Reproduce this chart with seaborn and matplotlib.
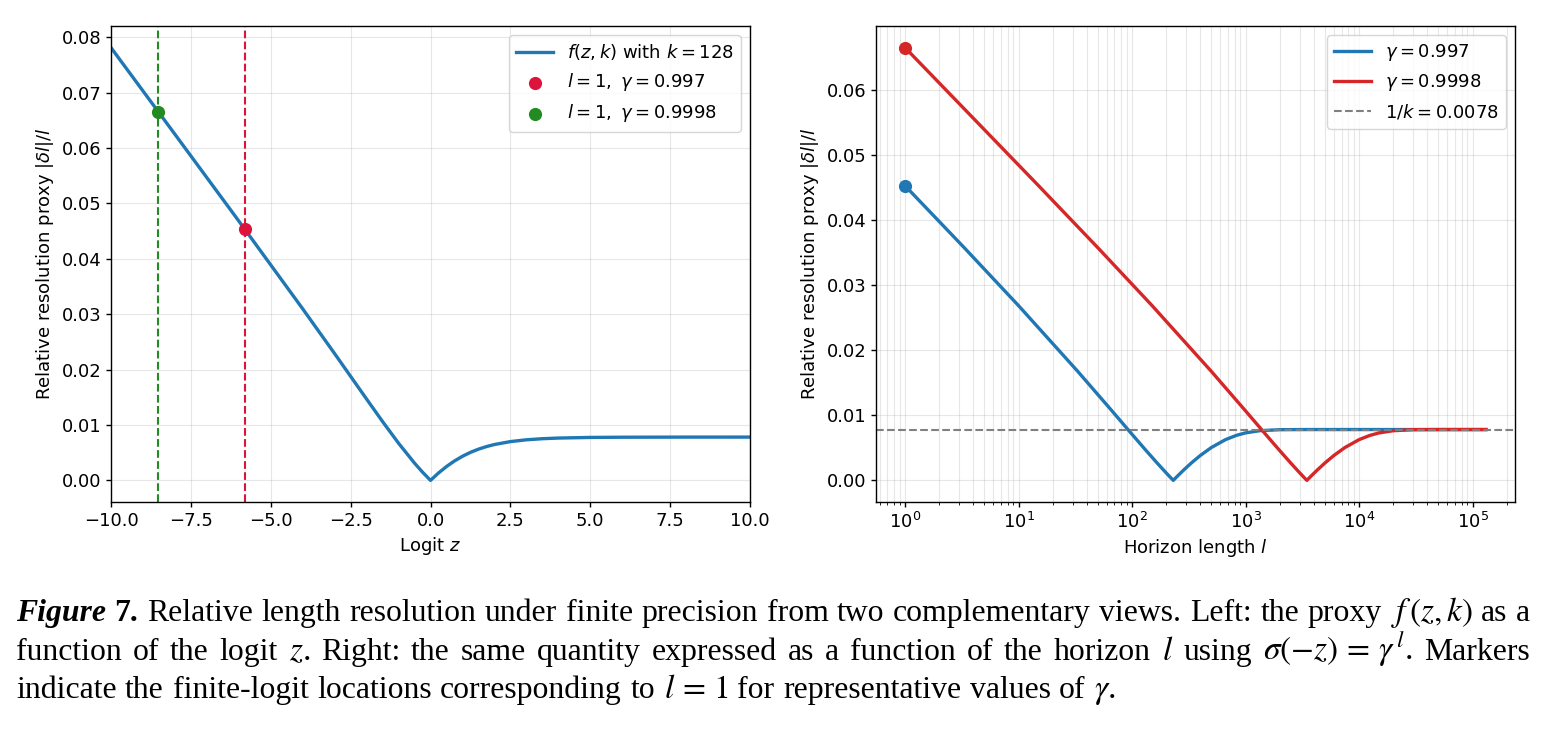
import matplotlib
matplotlib.use("Agg")
import matplotlib.pyplot as plt
import seaborn as sns

# ---- data ----
k_levels = 128
inv_k = 0.0078125

# left panel: proxy f(z, k) against the logit z
logit_z = [-10, -8, -6, -4, -3, -2, -1.5, -1, -0.5, -0.25, 0, 0.25, 0.5, 0.75,
           1, 1.25, 1.5, 1.75, 2, 2.5, 3, 3.5, 4, 5, 6, 8, 10]
proxy_z = [0.078125, 0.06249, 0.046817, 0.030968, 0.022877, 0.014674, 0.010614,
           0.006707, 0.003111, 0.0014848, 0.0, 0.0013294, 0.0024962, 0.0035005,
           0.004349, 0.0050541, 0.005631, 0.0060977, 0.006471, 0.006999,
           0.007323, 0.0075195, 0.007637, 0.007750, 0.007790, 0.007810, 0.0078121]

# finite-logit locations for l = 1
marker_z = [-5.806, -8.517]
marker_f = [0.045293, 0.066532]
marker_labels = [r"$l=1,\ \gamma=0.997$", r"$l=1,\ \gamma=0.9998$"]
marker_colors = ["crimson", "forestgreen"]

# right panel: same quantity against the horizon l
horizon_g1 = [1, 3.328, 9.985, 33.28, 66.57, 99.85, 133.1, 166.4, 199.7, 216.3,
              230.7, 239.6, 249.6, 282.9, 332.8, 399.4, 499.3, 665.7, 832.1,
              998.5, 1331, 1997, 3328, 131072]
proxy_g1 = [0.045293, 0.035759, 0.026872, 0.016744, 0.010676, 0.0070886,
            0.0045689, 0.0026605, 0.0011507, 0.00050673, 0.0, 0.00029518,
            0.00060808, 0.0015389, 0.0026733, 0.0038290, 0.0050477, 0.0062640,
            0.0069255, 0.0072972, 0.0076340, 0.0077898, 0.0078121, 0.0078125]

horizon_g2 = [1, 15.02, 50, 150, 500, 1000, 1500, 2000, 2500, 3000, 3250, 3465,
              3600, 3750, 4250, 5000, 6000, 7500, 10000, 12500, 15000, 20000,
              30000, 50000, 131072]
proxy_g2 = [0.066532, 0.045293, 0.035759, 0.026872, 0.016744, 0.010676,
            0.0070886, 0.0045689, 0.0026605, 0.0011507, 0.00050673, 0.0,
            0.00029518, 0.00060808, 0.0015389, 0.0026733, 0.0038290, 0.0050477,
            0.0062640, 0.0069255, 0.0072972, 0.0076340, 0.0077898, 0.0078121,
            0.0078125]

gamma_labels = [r"$\gamma=0.997$", r"$\gamma=0.9998$"]
gamma_colors = ["tab:blue", "tab:red"]

# ---- figure ----
plt.rcParams.update({
    "font.size": 13,
    "axes.linewidth": 1.0,
    "xtick.major.width": 1.0,
    "ytick.major.width": 1.0,
})

W, H = 1544, 729
fig = plt.figure(figsize=(W / 100, H / 100), dpi=100)
ax1 = fig.add_axes([111 / W, 1 - 502 / H, 639 / W, 476 / H])
ax2 = fig.add_axes([876 / W, 1 - 502 / H, 639 / W, 476 / H])

# left panel
sns.lineplot(x=logit_z, y=proxy_z, ax=ax1, color="tab:blue", lw=2.4,
             label=rf"$f(z,k)$ with $k={k_levels}$")
for z, f, lab, c in zip(marker_z, marker_f, marker_labels, marker_colors):
    ax1.axvline(z, color=c, linestyle="--", lw=1.5)
    sns.scatterplot(x=[z], y=[f], ax=ax1, color=c, s=90, linewidth=0,
                    zorder=5, label=lab)
ax1.set_xlim(-10, 10)
ax1.set_xticks([-10, -7.5, -5, -2.5, 0, 2.5, 5, 7.5, 10])
ax1.set_xlabel(r"Logit $z$")
ax1.set_ylabel(r"Relative resolution proxy $|\delta l|/l$")
ax1.grid(True, alpha=0.3)
ax1.legend(loc="upper right")

# right panel
series = [(horizon_g1, proxy_g1), (horizon_g2, proxy_g2)]
for (l, f), lab, c in zip(series, gamma_labels, gamma_colors):
    sns.lineplot(x=l, y=f, ax=ax2, color=c, lw=2.4, label=lab)
    sns.scatterplot(x=[l[0]], y=[f[0]], ax=ax2, color=c, s=90, linewidth=0,
                    zorder=5, legend=False)
ax2.axhline(inv_k, color="gray", linestyle="--", lw=1.5,
            label=r"$1/k=0.0078$")
ax2.set_xscale("log")
ax2.set_xlabel(r"Horizon length $l$")
ax2.set_ylabel(r"Relative resolution proxy $|\delta l|/l$")
ax2.grid(True, which="both", alpha=0.3)
ax2.legend(loc="upper right")

# ---- caption (justified word by word) ----
renderer = fig.canvas.get_renderer()
serif = "Liberation Serif"
bold_it = dict(fontweight="bold", fontstyle="italic")
bold = dict(fontweight="bold")
line1 = [("Figure", bold_it), ("7.", bold)] + [
    (w, {}) for w in (r"Relative length resolution under finite precision from two "
                      r"complementary views. Left: the proxy $f\,(z,k)$ as a").split()]
line2 = [(w, {}) for w in (r"function of the logit $z$. Right: the same quantity "
                           r"expressed as a function of the horizon $l$ using "
                           r"$\sigma(-z)\,=\,\gamma^{\,l}$. Markers").split()]
line3 = [(w, {}) for w in (r"indicate the finite-logit locations corresponding to "
                           r"$l\,=\,1$ for representative values of $\gamma$.").split()]

X0, X1 = 16, 1530
MATH_SCALE = 1.05


def place(words, y_px, size, justify=True):
    texts = []
    for s, kw in words:
        fs = size * MATH_SCALE if "$" in s else size
        t = fig.text(0, 1 - y_px / H, s, fontsize=fs, family=serif,
                     math_fontfamily="stix", va="baseline", ha="left", **kw)
        texts.append(t)
    widths = [t.get_window_extent(renderer).width for t in texts]
    space = size * 100 / 72 * 0.27
    if justify:
        space = (X1 - X0 - sum(widths)) / (len(texts) - 1)
    x = X0
    for t, w in zip(texts, widths):
        t.set_x(x / W)
        x += w + space
    return texts, sum(widths) + 0.27 * size * 100 / 72 * (len(texts) - 1)


tmp, natural = place(line1, 623, 16, justify=False)
for t in tmp:
    t.remove()
size = 16 * (X1 - X0) / natural

place(line1, 621, size)
place(line2, 660, size)
place(line3, 698, size, justify=False)

fig.savefig("out.png", dpi=100)
